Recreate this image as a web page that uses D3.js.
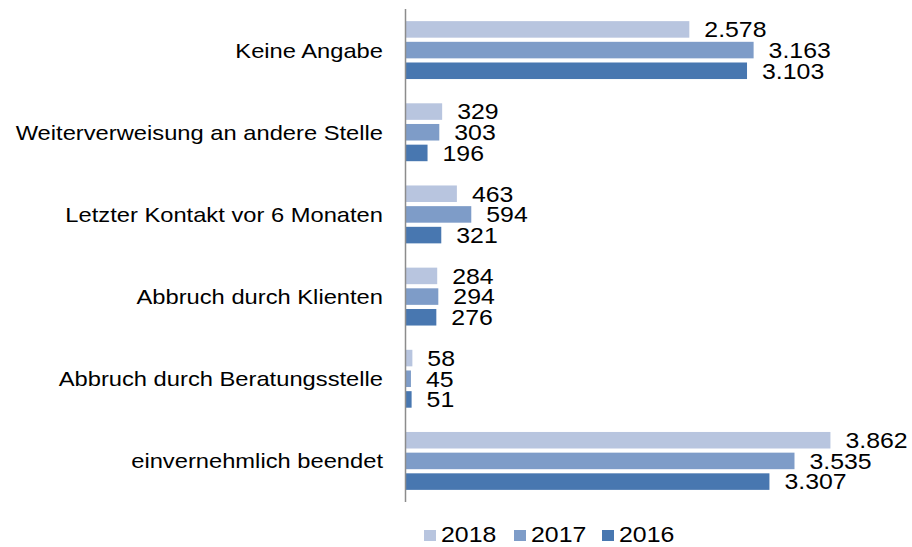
<!DOCTYPE html>
<html>
<head>
<meta charset="utf-8">
<script src="https://cdn.jsdelivr.net/npm/d3@7"></script>
<style>
  body { margin: 0; background: #fff; }
  text { font-family: "Liberation Sans", Arial, sans-serif; fill: #000; }
</style>
</head>
<body>
<div id="chart"></div>
<script>
const WIDTH = 912
const HEIGHT = 547
// the original text is a bit wider than the font at this height
const STRETCH = 1.13

const categories = [
  'Keine Angabe',
  'Weiterverweisung an andere Stelle',
  'Letzter Kontakt vor 6 Monaten',
  'Abbruch durch Klienten',
  'Abbruch durch Beratungsstelle',
  'einvernehmlich beendet',
]
const years = ['2018', '2017', '2016']
const values2018 = [2578, 329, 463, 284, 58, 3862]
const values2017 = [3163, 303, 594, 294, 45, 3535]
const values2016 = [3103, 196, 321, 276, 51, 3307]
const colors = ['#b8c5df', '#7e9cc8', '#4877b0']

const seriesByYear = { '2018': values2018, '2017': values2017, '2016': values2016 }
const fmt = d3.formatLocale({ decimal: ',', thousands: '.', grouping: [3], currency: ['', '€'] }).format(',d')

const svg = d3.select('#chart')
  .append('svg')
  .attr('width', WIDTH)
  .attr('height', HEIGHT)

const x = d3.scaleLinear().domain([0, 4000]).range([406, 845.6])

// one band per category, bars of three years inside
const y = d3.scaleBand()
  .domain(categories)
  .range([9, 502])
  .paddingInner(0.245)
  .paddingOuter(0.1225)

const ySub = d3.scaleBand()
  .domain(years)
  .range([0, y.bandwidth()])
  .paddingInner(0.2)
  .paddingOuter(0.1)

const color = d3.scaleOrdinal().domain(years).range(colors)

const groups = svg.append('g')
  .selectAll('g')
  .data(categories)
  .join('g')
  .attr('transform', (d) => `translate(0,${y(d)})`)

const bars = groups.selectAll('g')
  .data((c, i) => years.map((yr) => ({ year: yr, value: seriesByYear[yr][i] })))
  .join('g')

bars.append('rect')
  .attr('x', x(0))
  .attr('y', (d) => ySub(d.year))
  .attr('width', (d) => x(d.value) - x(0))
  .attr('height', ySub.bandwidth())
  .attr('fill', (d) => color(d.year))

bars.append('text')
  .attr('transform', (d) => `translate(${x(d.value) + 15},${ySub(d.year) + ySub.bandwidth() / 2 + 7.8}) scale(${STRETCH},1)`)
  .attr('font-size', 22)
  .text((d) => fmt(d.value))

// category labels
const yAxis = d3.axisLeft(y).tickSize(0).tickPadding(0)
svg.append('g')
  .attr('transform', `translate(405.5,0)`)
  .call(yAxis)
  .call((g) => g.select('.domain').remove())
  .call((g) => g.selectAll('text')
    .attr('x', 0)
    .attr('dy', '0.36em')
    .attr('transform', `translate(-22.5,0) scale(${STRETCH},1)`)
    .attr('font-size', 21)
    .attr('font-family', '"Liberation Sans", Arial, sans-serif')
    .attr('fill', '#000'))

svg.append('line')
  .attr('x1', 405.5).attr('x2', 405.5)
  .attr('y1', 9).attr('y2', 502)
  .attr('stroke', '#8c8c8c')
  .attr('stroke-width', 1.5)

// legend
const legendX = [424, 514, 602]
const legend = svg.append('g')
  .selectAll('g')
  .data(years)
  .join('g')
  .attr('transform', (d, i) => `translate(${legendX[i]},530)`)

legend.append('rect')
  .attr('width', 12)
  .attr('height', 11)
  .attr('fill', (d) => color(d))

legend.append('text')
  .attr('transform', `translate(17,11.5) scale(${STRETCH},1)`)
  .attr('font-size', 22)
  .text((d) => d)
</script>
</body>
</html>
